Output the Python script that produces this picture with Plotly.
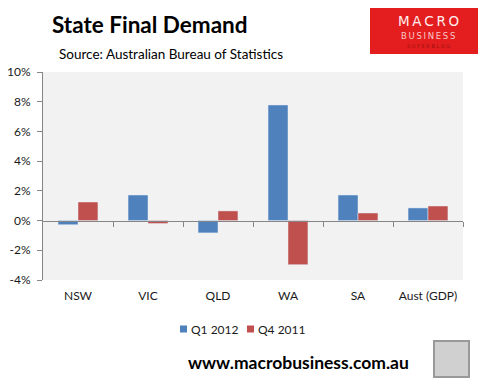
import plotly.graph_objects as go

categories = ["NSW", "VIC", "QLD", "WA", "SA", "Aust (GDP)"]
q1_2012 = [-0.28, 1.72, -0.83, 7.78, 1.72, 0.85]
q4_2011 = [1.25, -0.2, 0.65, -2.97, 0.51, 0.98]
series_names = ["Q1 2012", "Q4 2011"]
series_colors = ["#4F81BD", "#C0504D"]
y_ticks = [-4, -2, 0, 2, 4, 6, 8, 10]
y_tick_labels = [f"{v}%" for v in y_ticks]

W, H = 483, 386
ml, mr, mt, mb = 43, 20, 72, 106
ymin, ymax = -4, 10
zero_pos = (0 - ymin) / (ymax - ymin)

fig = go.Figure()
for name, vals, col in zip(series_names, [q1_2012, q4_2011], series_colors):
    fig.add_bar(x=categories, y=vals, name=name, marker_color=col, showlegend=False)
# invisible trace to activate the zero-crossing category axis
fig.add_scatter(x=[0, 5], y=[0, 0], xaxis="x2", yaxis="y", mode="lines",
                line=dict(width=0), showlegend=False, hoverinfo="skip")

font = "Lato, 'Open Sans', sans-serif"
fig.update_layout(
    width=W, height=H,
    margin=dict(l=ml, r=mr, t=mt, b=mb, autoexpand=False),
    paper_bgcolor="white",
    plot_bgcolor="#F2F2F2",
    barmode="group",
    bargap=0.43,
    bargroupgap=0,
    showlegend=False,
    font=dict(family=font, size=11, color="#1a1a1a"),
    xaxis=dict(showline=False, ticks="", showgrid=False, zeroline=False,
               tickfont=dict(size=12), range=[-0.5, 5.5], fixedrange=True,
               ticklabelstandoff=7),
    xaxis2=dict(overlaying="x", anchor="free", position=zero_pos,
                range=[-0.5, 5.5], showline=True, linecolor="#868686", linewidth=1,
                tickvals=[0.5, 1.5, 2.5, 3.5, 4.5, 5.5], ticks="outside",
                ticklen=5, tickcolor="#868686", showticklabels=False,
                showgrid=False, zeroline=False),
    yaxis=dict(range=[ymin, ymax], tickvals=y_ticks, ticktext=y_tick_labels,
               showline=True, linecolor="#868686", linewidth=1,
               ticks="outside", ticklen=5, tickcolor="#868686",
               showgrid=False, zeroline=False, tickfont=dict(size=12),
               ticklabelstandoff=4),
)

# Manual legend (square swatch + label), centred like the reference
legend_y = H - 329
legend_x = [180, 247]
for name, col, lx in zip(series_names, series_colors, legend_x):
    fig.add_shape(type="rect", x0=lx, x1=lx + 7, y0=legend_y - 3.5, y1=legend_y + 3.5,
                  fillcolor=col, line=dict(width=0), layer="above")
    fig.add_annotation(text=name, x=lx + 9, y=legend_y, showarrow=False,
                       font=dict(size=12, family=font, color="#1a1a1a"),
                       xanchor="left", yanchor="middle")

# Titles
fig.add_annotation(text="<b>State Final Demand</b>", x=50, y=H - 25,
                   showarrow=False, font=dict(size=22.5, family=font, color="black"),
                   xanchor="left", yanchor="middle")
fig.add_annotation(text="Source: Australian Bureau of Statistics", x=57, y=H - 54,
                   showarrow=False, font=dict(size=13.5, family=font, color="black"),
                   xanchor="left", yanchor="middle")
fig.add_annotation(text="<b>www.macrobusiness.com.au</b>", x=298, y=H - 362,
                   showarrow=False, font=dict(size=17.5, family=font, color="black"),
                   xanchor="center", yanchor="middle")

# Logo
fig.add_shape(type="rect", x0=370, x1=478, y0=H - 54, y1=H - 8, fillcolor="#E41E1E",
              line=dict(width=0), layer="above")
fig.add_annotation(text="M\u2009A\u2009C\u2009R\u2009O", x=428, y=H - 21, showarrow=False,
                   font=dict(size=13.5, family="'DejaVu Sans', sans-serif", color="#fff0f0"),
                   xanchor="center", yanchor="middle")
fig.add_annotation(text="B\u2009U\u2009S\u2009I\u2009N\u2009E\u2009S\u2009S", x=428, y=H - 36,
                   showarrow=False,
                   font=dict(size=8.5, family="'DejaVu Sans', sans-serif", color="#f8c8c8"),
                   xanchor="center", yanchor="middle")
fig.add_annotation(text="S U P E R B L O G", x=428, y=H - 46, showarrow=False,
                   font=dict(size=5, family="'DejaVu Sans', sans-serif", color="#a01010"),
                   xanchor="center", yanchor="middle")
# Wolf image placeholder
fig.add_shape(type="rect", x0=434, x1=469, y0=H - 377, y1=H - 341, fillcolor="#d0d0d0",
              line=dict(color="#999999", width=2), layer="above")

# convert pixel coordinates to paper for annotations/shapes
pw = W - ml - mr
ph = H - mt - mb
for a in fig.layout.annotations:
    a.xref = "paper"; a.yref = "paper"
    a.x = (a.x - ml) / pw
    a.y = (a.y - mb) / ph
for s in fig.layout.shapes:
    s.xref = "paper"; s.yref = "paper"
    s.x0 = (s.x0 - ml) / pw; s.x1 = (s.x1 - ml) / pw
    s.y0 = (s.y0 - mb) / ph; s.y1 = (s.y1 - mb) / ph

fig.write_html("out.html", config={"displayModeBar": False})
with open("out.html", encoding="utf-8") as f:
    html = f.read()
html = html.replace("<head>", "<head><style>html,body{margin:0;padding:0;overflow:hidden}</style>", 1)
with open("out.html", "w", encoding="utf-8") as f:
    f.write(html)
